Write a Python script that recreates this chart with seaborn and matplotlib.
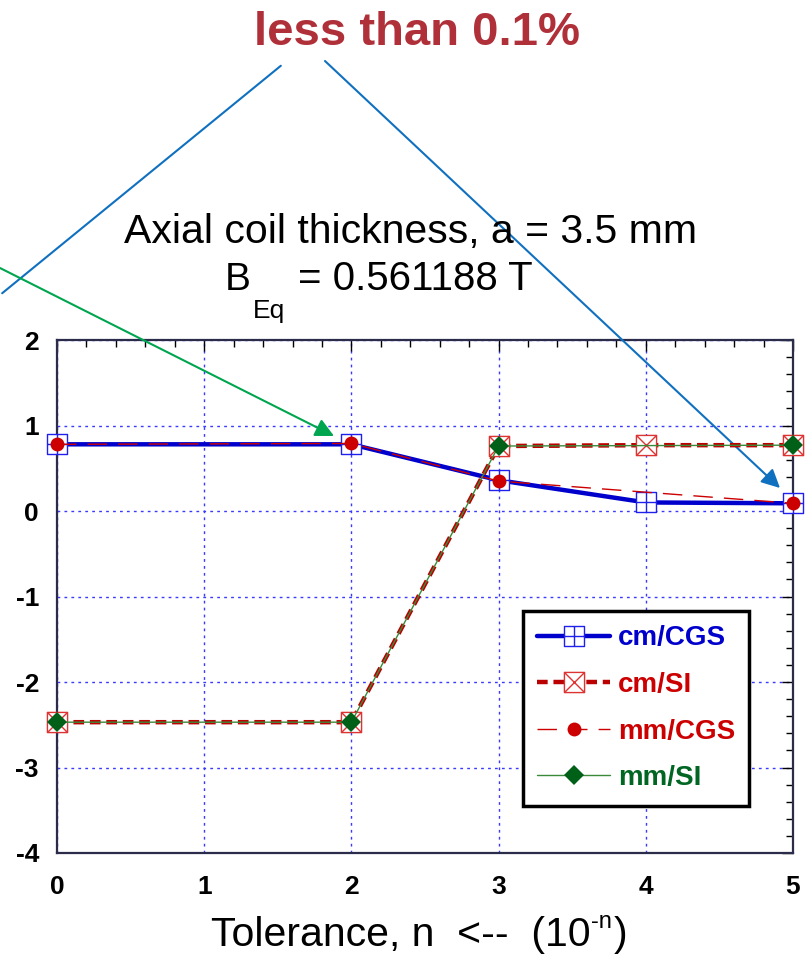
import matplotlib
matplotlib.use("Agg")
import matplotlib.pyplot as plt
from matplotlib.path import Path
from matplotlib.ticker import MultipleLocator
import seaborn as sns

sns.set_theme(style="white")
plt.rcParams['font.family'] = ['Liberation Sans', 'DejaVu Sans']
plt.rcParams['axes.unicode_minus'] = False
plt.rcParams['text.color'] = 'black'

# values
x_cm = [0, 2, 3, 4, 5]
x_mm = [0, 2, 3, 5]
cm_cgs = [0.78, 0.78, 0.36, 0.10, 0.09]
cm_si = [-2.47, -2.47, 0.76, 0.77, 0.77]
mm_cgs = [0.78, 0.79, 0.35, 0.09]
mm_si = [-2.47, -2.47, 0.76, 0.77]
labels = ['cm/CGS', 'cm/SI', 'mm/CGS', 'mm/SI']
label_colors = ['#0000cc', '#cc0000', '#cc0000', '#006622']
xticks = [0, 1, 2, 3, 4, 5]
yticks = [-4, -3, -2, -1, 0, 1, 2]

W, H = 805, 960
def fx(px):
    return px / W
def fy(py):
    return 1 - py / H

# square with plus / square with cross markers
sq = [(-1, -1), (1, -1), (1, 1), (-1, 1), (-1, -1)]
sq_codes = [Path.MOVETO, Path.LINETO, Path.LINETO, Path.LINETO, Path.CLOSEPOLY]
box_plus = Path(sq + [(0, -1), (0, 1), (-1, 0), (1, 0)],
                sq_codes + [Path.MOVETO, Path.LINETO, Path.MOVETO, Path.LINETO])
box_x = Path(sq + [(-1, -1), (1, 1), (-1, 1), (1, -1)],
             sq_codes + [Path.MOVETO, Path.LINETO, Path.MOVETO, Path.LINETO])

fig = plt.figure(figsize=(W / 100, H / 100), dpi=100)
ax = fig.add_axes([fx(57), fy(853), fx(793) - fx(57), fy(340) - fy(853)])

sns.lineplot(x=x_cm, y=cm_cgs, ax=ax, color='#0000cc', lw=3.2, marker=box_plus,
             ms=14.5, mfc='white', mec='#2020ee', mew=1, label=labels[0],
             errorbar=None, sort=False, clip_on=False, zorder=3)
sns.lineplot(x=x_cm, y=cm_si, ax=ax, color='#bb0000', lw=3.2, dashes=(2.4, 1.3),
             marker=box_x, ms=14.5, mfc='white', mec='#dd3333', mew=1,
             label=labels[1], errorbar=None, sort=False, clip_on=False, zorder=4)
sns.lineplot(x=x_mm, y=mm_cgs, ax=ax, color='#cc0000', lw=1, dashes=(14, 8),
             marker='o', ms=10, mfc='#cc0000', mec='#cc0000', mew=0,
             label=labels[2], errorbar=None, sort=False, clip_on=False, zorder=5)
sns.lineplot(x=x_mm, y=mm_si, ax=ax, color='#3a8a3a', lw=1, marker='D', ms=10.5,
             mfc='#006018', mec='#006018', mew=0, label=labels[3],
             errorbar=None, sort=False, clip_on=False, zorder=6)

ax.set_xlim(0, 5)
ax.set_ylim(-4, 2)
ax.set_xticks(xticks)
ax.set_yticks(yticks)
ax.xaxis.set_minor_locator(MultipleLocator(0.2))
ax.yaxis.set_minor_locator(MultipleLocator(0.2))
ax.tick_params(which='both', direction='in', top=True, right=True,
               colors='black', width=1)
ax.tick_params(which='major', length=8, labelsize=19)
ax.tick_params(which='minor', length=5)
ax.tick_params(axis='x', which='major', pad=16)
ax.tick_params(axis='y', which='major', pad=13)
for t in ax.get_xticklabels() + ax.get_yticklabels():
    t.set_fontweight('bold')
ax.set_axisbelow(True)
ax.grid(True, which='major', color='#3a3aff', ls=(0, (2, 3)), lw=1)
for s in ax.spines.values():
    s.set_color('#2b2b4a')
    s.set_linewidth(1.6)
ax.set_xlabel('')
ax.set_ylabel('')

leg = ax.legend(loc='upper left', bbox_to_anchor=((523 - 57) / 736, (853 - 611) / 513),
                frameon=True, fancybox=False, edgecolor='black', framealpha=1,
                prop={'weight': 'bold', 'size': 20}, handlelength=2.6,
                handletextpad=0.29, labelspacing=0.74, borderpad=0.52,
                borderaxespad=0)
leg.get_frame().set_linewidth(2.5)
for t, c in zip(leg.get_texts(), label_colors):
    t.set_color(c)

# annotation text
fig.text(fx(417), fy(33), 'less than 0.1%', color='#b0303a', fontsize=34,
         fontweight='bold', ha='center', va='center')
fig.text(fx(411), fy(232), 'Axial coil thickness, a = 3.5 mm', fontsize=29.5,
         ha='center', va='center')
fig.text(fx(225), fy(290), 'B', fontsize=28, ha='left', va='baseline')
fig.text(fx(253), fy(318), 'Eq', fontsize=19, ha='left', va='baseline')
fig.text(fx(298), fy(290), '= 0.561188 T', fontsize=29, ha='left', va='baseline')
fig.text(fx(591), fy(935), 'Tolerance, n  <--  (10', fontsize=29.5,
         ha='right', va='center')
fig.text(fx(591), fy(922), '-n', fontsize=17, ha='left', va='center')
fig.text(fx(614), fy(935), ')', fontsize=29.5, ha='left', va='center')

# pointer lines
blue = '#1070c0'
ax.annotate('', xy=(0, H - 295), xycoords='figure pixels',
            xytext=(283, H - 64), textcoords='figure pixels',
            arrowprops=dict(arrowstyle='-', color=blue, lw=1.5))
ax.annotate('', xy=(780, H - 488), xycoords='figure pixels',
            xytext=(325, H - 61), textcoords='figure pixels',
            arrowprops=dict(arrowstyle='-|>', color=blue, lw=1.5,
                            mutation_scale=28, shrinkA=0, shrinkB=0))
ax.annotate('', xy=(334, H - 436), xycoords='figure pixels',
            xytext=(0, H - 268), textcoords='figure pixels',
            arrowprops=dict(arrowstyle='-|>', color='#00a550', lw=1.5,
                            mutation_scale=28, shrinkA=0, shrinkB=0))

fig.savefig('out.png', dpi=100)
